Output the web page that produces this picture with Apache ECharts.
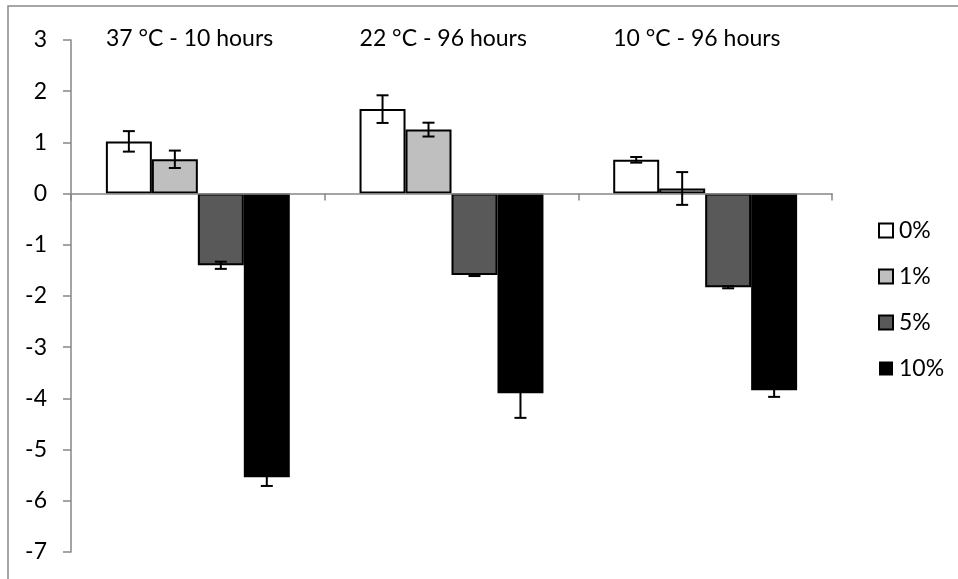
<!DOCTYPE html>
<html>
<head>
<meta charset="utf-8">
<script src="https://cdn.jsdelivr.net/npm/echarts@6/dist/echarts.min.js"></script>
<style>
html,body{margin:0;padding:0;background:#fff;}
#chart{width:958px;height:579px;}
</style>
</head>
<body>
<div id="chart"></div>
<script>
const categories = ['37 °C - 10 hours', '22 °C - 96 hours', '10 °C - 96 hours'];
const seriesNames = ['0%', '1%', '5%', '10%'];
const values0 = [1.02, 1.65, 0.66];
const values1 = [0.67, 1.25, 0.10];
const values5 = [-1.40, -1.59, -1.83];
const values10 = [-5.54, -3.90, -3.84];
const errors0 = [0.20, 0.27, 0.055];
const errors1 = [0.17, 0.135, 0.32];
const errors5 = [0.07, 0.02, 0.02];
const errors10 = [0.17, 0.48, 0.13];
const yTicks = [-7, -6, -5, -4, -3, -2, -1, 0, 1, 2, 3];

const allValues = [values0, values1, values5, values10];
const allErrors = [errors0, errors1, errors5, errors10];
const fills = ['#ffffff', '#bfbfbf', '#595959', '#000000'];
const GAP = 0.275;
const FONT = 'Lato';
const FS = 23;

const chart = echarts.init(document.getElementById('chart'), null, {renderer: 'canvas'});

const barSeries = seriesNames.map((name, i) => ({
  name: name,
  type: 'bar',
  data: allValues[i],
  barGap: '0%',
  barCategoryGap: (GAP * 100) + '%',
  itemStyle: {color: fills[i], borderColor: '#000', borderWidth: i === 3 ? 0 : 2},
  z: 2
}));

const errData = [];
allValues.forEach((vals, s) => {
  vals.forEach((v, c) => errData.push([c, v, allErrors[s][c], s]));
});

function barCenter(api, cat, s) {
  const bandW = api.size([1, 0])[0];
  const barW = bandW * (1 - GAP) / seriesNames.length;
  return api.coord([cat, 0])[0] - barW * seriesNames.length / 2 + barW * (s + 0.5);
}

const errSeries = {
  type: 'custom',
  name: 'err',
  data: errData,
  encode: {x: 0, y: 1},
  z: 5,
  silent: true,
  renderItem: function (params, api) {
    const cat = api.value(0), v = api.value(1), e = api.value(2), s = api.value(3);
    const x = barCenter(api, cat, s);
    const yt = api.coord([cat, v + e])[1];
    const yb = api.coord([cat, v - e])[1];
    const cap = 6;
    const st = {stroke: '#000', lineWidth: 2};
    return {
      type: 'group',
      children: [
        {type: 'line', shape: {x1: x, y1: yt, x2: x, y2: yb}, style: st},
        {type: 'line', shape: {x1: x - cap, y1: yt, x2: x + cap, y2: yt}, style: st},
        {type: 'line', shape: {x1: x - cap, y1: yb, x2: x + cap, y2: yb}, style: st}
      ]
    };
  }
};

const titleSeries = {
  type: 'custom',
  name: 'titles',
  data: categories.map((c, i) => [i, yTicks[yTicks.length - 1]]),
  encode: {x: 0, y: 1},
  z: 6,
  silent: true,
  renderItem: function (params, api) {
    const cat = api.value(0);
    const bandW = api.size([1, 0])[0];
    const barW = bandW * (1 - GAP) / seriesNames.length;
    const p = api.coord([cat, api.value(1)]);
    return {
      type: 'text',
      style: {
        x: p[0] - barW * seriesNames.length / 2,
        y: p[1] - 1,
        text: categories[cat],
        fontFamily: FONT,
        fontSize: FS,
        fill: '#000',
        align: 'left',
        verticalAlign: 'middle'
      }
    };
  }
};

const option = {
  animation: false,
  backgroundColor: '#fff',
  textStyle: {fontFamily: FONT},
  graphic: [{
    type: 'rect',
    shape: {x: 8, y: 6, width: 2000, height: 2000},
    style: {fill: 'none', stroke: '#898989', lineWidth: 1.5},
    silent: true,
    z: -1
  }],
  grid: {left: 71, right: 126, top: 40, bottom: 27, containLabel: false},
  legend: {
    data: seriesNames,
    orient: 'vertical',
    left: 873,
    top: 214,
    icon: 'rect',
    itemWidth: 14,
    itemHeight: 14,
    itemGap: 23,
    textStyle: {fontFamily: FONT, fontSize: FS, color: '#000', padding: [0, 0, 0, 1]}
  },
  xAxis: {
    type: 'category',
    data: categories,
    z: 3,
    axisLine: {onZero: true, lineStyle: {color: '#868686', width: 1.5}},
    axisTick: {show: true, length: 7, lineStyle: {color: '#868686', width: 1.5}},
    axisLabel: {show: false},
    splitLine: {show: false}
  },
  yAxis: {
    type: 'value',
    min: yTicks[0],
    max: yTicks[yTicks.length - 1],
    interval: 1,
    axisLine: {show: true, lineStyle: {color: '#868686', width: 1.5}},
    axisTick: {show: true, length: 8, lineStyle: {color: '#868686', width: 1.5}},
    axisLabel: {fontFamily: FONT, fontSize: FS, color: '#000', margin: 24},
    splitLine: {show: false}
  },
  series: barSeries.concat([errSeries, titleSeries])
};

chart.setOption(option);
</script>
</body>
</html>
